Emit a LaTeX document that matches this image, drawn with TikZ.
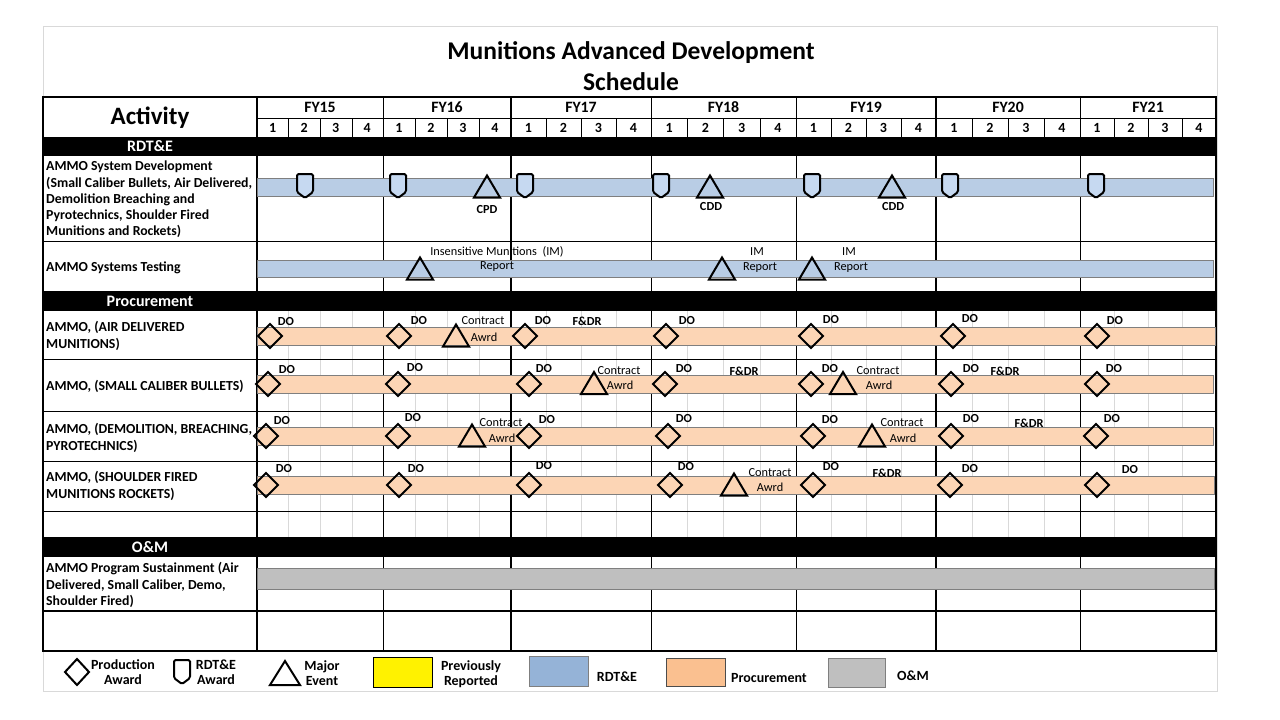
\documentclass[tikz,border=0pt]{standalone}
\usepackage{fontspec}
\setmainfont{Carlito}
\definecolor{rdtebar}{HTML}{B9CDE5}
\definecolor{shieldc}{HTML}{C6D9F1}
\definecolor{procbar}{HTML}{FCD5B5}
\definecolor{procleg}{HTML}{FAC090}
\definecolor{rdteleg}{HTML}{95B3D7}
\definecolor{ombar}{HTML}{BFBFBF}
\definecolor{gridgray}{HTML}{D9D9D9}
\definecolor{bargray}{HTML}{7F7F7F}
\newcommand\dia[2]{\draw[mk] (#1-12,#2) -- (#1,#2-12) -- (#1+12,#2) -- (#1,#2+12) -- cycle;}
\newcommand\tri[2]{\draw[mk] (#1,#2-11) -- (#1+13,#2+11) -- (#1-13,#2+11) -- cycle;}
\newcommand\shd[2]{\draw[mk,fill=shieldc,rounded corners=1.5pt] (#1-8,#2+6) -- (#1-8,#2-12) -- (#1+8,#2-12) -- (#1+8,#2+6) -- (#1,#2+12) -- cycle;}
\newcommand\lbl[4]{\node[smlbl] (#1) at (#2,#3) {#4};}
\newcommand\lbb[4]{\node[smlbl,font=\fontsize{12.3}{14}\selectfont\bfseries] (#1) at (#2,#3) {#4};}
\begin{document}
\begin{tikzpicture}[x=1pt,y=-1pt,
  mk/.style={draw=black,line width=2pt,line join=miter},
  smlbl/.style={inner sep=0pt,font=\fontsize{12.3}{14}\selectfont},
  rowlbl/.style={anchor=west,align=left,inner sep=0pt,font=\fontsize{13.8}{16.3}\selectfont\bfseries},
  secbar/.style={fill=black,draw=none},
  sectxt/.style={text=white,inner sep=0pt,font=\fontsize{16}{18}\selectfont\bfseries},
  bar/.style={draw=bargray,line width=0.8pt},
  legtxt/.style={align=center,inner sep=0pt,font=\fontsize{14}{15}\selectfont\bfseries}]
\useasboundingbox (0,0) rectangle (1280,720);
\fill[white] (0,0) rectangle (1280,720);
% outer frame
\draw[gridgray,line width=0.8pt] (43,26) rectangle (1217,691);
% title
\node[font=\fontsize{25.5}{28}\selectfont\bfseries] (title1) at (631,53) {Munitions Advanced Development};
\node[font=\fontsize{25.5}{28}\selectfont\bfseries] (title2) at (631,82) {Schedule};
% light quarter grid in procurement rows
\foreach \q in {288,320,352,415,447,479,546,581,616,687,723,760,831,866,901,972,1008,1044,1114,1148,1182}
  \draw[gridgray,line width=0.8pt] (\q,311) -- (\q,537);
% testing label drawn under grid
\lbl{insens}{497}{252}{Insensitive Munitions\ \ (IM)}
% year lines
\foreach \yv in {383,651,796,1080}
  \draw[black,line width=0.9pt] (\yv,97) -- (\yv,651);
\foreach \yv in {511,936}
  \draw[black,line width=1.8pt] (\yv,97) -- (\yv,651);
% horizontal row lines
\foreach \h in {241,359,411,461,511}
  \draw[black,line width=0.9pt] (43,\h) -- (1216,\h);
\draw[black,line width=0.9pt] (257,118) -- (1216,118);
% header quarter lines
\foreach \q in {288,320,352,415,447,479,546,581,616,687,723,760,831,866,901,972,1008,1044,1114,1148,1182}
  \draw[black,line width=0.9pt] (\q,118) -- (\q,137);
% section bars
\fill[secbar] (43,137) rectangle (1216,156);
\fill[secbar] (43,291) rectangle (1216,311);
\fill[secbar] (43,537) rectangle (1216,557);
\node[sectxt] (s1) at (150,146.5) {RDT\&E};
\node[sectxt] (s2) at (150,301) {Procurement};
\node[sectxt] (s3) at (150,547) {O\&M};
% thick borders
\draw[black,line width=2pt] (43,97) rectangle (1216,651);
\draw[black,line width=2pt] (257,97) -- (257,651);
\draw[black,line width=2pt] (43,611) -- (1216,611);
% header texts
\node[font=\fontsize{25}{28}\selectfont\bfseries] (act) at (150,118) {Activity};
\foreach \a/\b/\t in {257/383/FY15,383/511/FY16,511/651/FY17,651/796/FY18,796/936/FY19,936/1080/FY20,1080/1216/FY21}{
  \node[font=\fontsize{15.8}{18}\selectfont\bfseries] (fy\t) at ({(\a+\b)/2},107.5) {\t};
  \foreach \k in {1,2,3,4}
    \node[font=\fontsize{14}{16}\selectfont\bfseries] (q\t\k) at ({\a+(\b-\a)*(\k-0.5)/4},127.5) {\k};
}
% row labels
\node[rowlbl] (r1) at (46,199.5) {AMMO System Development\\(Small Caliber Bullets, Air Delivered,\\Demolition Breaching and\\Pyrotechnics, Shoulder Fired\\Munitions and Rockets)};
\node[rowlbl] (r2) at (46,268) {AMMO Systems Testing};
\node[rowlbl] (r3) at (46,336) {AMMO, (AIR DELIVERED\\MUNITIONS)};
\node[rowlbl] (r4) at (46,386) {AMMO, (SMALL CALIBER BULLETS)};
\node[rowlbl] (r5) at (46,438) {AMMO, (DEMOLITION, BREACHING,\\PYROTECHNICS)};
\node[rowlbl] (r6) at (46,486) {AMMO, (SHOULDER FIRED\\MUNITIONS ROCKETS)};
\node[rowlbl] (r7) at (46,585) {AMMO Program Sustainment (Air\\Delivered, Small Caliber, Demo,\\Shoulder Fired)};
% bars
\draw[bar,fill=rdtebar] (257,178) rectangle (1213,196);
\draw[bar,fill=rdtebar] (257,260) rectangle (1213,277);
\draw[bar,fill=procbar] (257,327) rectangle (1215,345);
\draw[bar,fill=procbar] (257,375) rectangle (1213,393);
\draw[bar,fill=procbar] (257,427) rectangle (1213,445);
\draw[bar,fill=procbar] (257,476) rectangle (1214,494);
\draw[bar,fill=ombar] (257,568) rectangle (1214,589);
% RDT&E development markers
\foreach \x in {305,398,525,661,812,950,1096} \shd{\x}{186};
\foreach \x in {487,710,892} \tri{\x}{186.5};
\lbb{cpd}{487}{210}{CPD}
\lbb{cdd1}{711}{207}{CDD}
\lbb{cdd2}{893}{207}{CDD}
% testing markers
\foreach \x in {420,722,812} \tri{\x}{268.5};
\lbl{rep1}{497}{267}{Report}
\lbl{im1}{757}{252}{IM}
\lbl{rep2}{760}{268}{Report}
\lbl{im2}{849}{252}{IM}
\lbl{rep3}{851}{268}{Report}
% AIR row
\foreach \x in {270,399,525,666,811,953,1097} \dia{\x}{336};
\tri{456}{335.5}
\lbb{a1}{286}{322}{DO}\lbb{a2}{419}{321}{DO}\lbb{a3}{543}{321}{DO}\lbb{a4}{687}{321}{DO}
\lbb{a5}{831}{320}{DO}\lbb{a6}{970}{319}{DO}\lbb{a7}{1115}{321}{DO}
\lbl{ac}{483}{321}{Contract}\lbl{aa}{484}{337}{Awrd}
\lbb{af}{587}{321}{F\&DR}
% SMALL row
\foreach \x in {268,398,529,665,811,951,1097} \dia{\x}{384};
\tri{594}{383}\tri{843}{383}
\lbb{b1}{287}{370}{DO}\lbb{b2}{415}{368}{DO}\lbb{b3}{544}{369}{DO}\lbb{b4}{684}{369}{DO}
\lbb{b5}{830}{369}{DO}\lbb{b6}{971}{369}{DO}\lbb{b7}{1114}{369}{DO}
\lbb{bf1}{744}{371}{F\&DR}\lbb{bf2}{1005}{371}{F\&DR}
\lbl{bc1}{619}{371}{Contract}\lbl{ba1}{620}{385}{Awrd}
\lbl{bc2}{878}{371}{Contract}\lbl{ba2}{879}{385}{Awrd}
% DEMO row
\foreach \x in {266,398,529,668,813,951,1096} \dia{\x}{436};
\tri{472}{435.5}\tri{872}{435.5}
\lbb{c1}{282}{421}{DO}\lbb{c2}{413}{418}{DO}\lbb{c3}{547}{420}{DO}\lbb{c4}{684}{419}{DO}
\lbb{c5}{830}{420}{DO}\lbb{c6}{971}{419}{DO}\lbb{c7}{1112}{419}{DO}
\lbl{cc1}{501}{423}{Contract}\lbl{ca1}{502}{438}{Awrd}
\lbl{cc2}{902}{423}{Contract}\lbl{ca2}{903}{438}{Awrd}
\lbb{cf}{1029}{423}{F\&DR}
% SHOULDER row
\foreach \x in {266,399,529,670,813,950,1097} \dia{\x}{485};
\tri{734}{484.5}
\lbb{d1}{284}{469}{DO}\lbb{d2}{416}{469}{DO}\lbb{d3}{544}{466}{DO}\lbb{d4}{686}{467}{DO}
\lbb{d5}{831}{467}{DO}\lbb{d6}{970}{469}{DO}\lbb{d7}{1130}{470}{DO}
\lbl{dc}{770}{473}{Contract}\lbl{da}{770}{487}{Awrd}
\lbb{df}{887}{473}{F\&DR}
% legend
\draw[mk] (65,672) -- (77,659) -- (89,672) -- (77,685) -- cycle;
\node[legtxt] (lg1) at (123,672.5) {Production\\Award};
\draw[mk,rounded corners=1.5pt] (174,678) -- (174,660) -- (190,660) -- (190,678) -- (182,684) -- cycle;
\node[legtxt] (lg2) at (216,672.5) {RDT\&E\\Award};
\draw[mk] (285,661) -- (300,685) -- (270,685) -- cycle;
\node[legtxt] (lg3) at (322,673.5) {Major\\Event};
\draw[black,line width=0.8pt,fill=yellow] (373,657) rectangle (432,687);
\node[legtxt] (lg4) at (471,674) {Previously\\Reported};
\draw[bargray,line width=0.8pt,fill=rdteleg] (529,656) rectangle (588,686);
\node[legtxt] (lg5) at (617,677) {RDT\&E};
\draw[black!70,line width=0.8pt,fill=procleg] (666,658) rectangle (725,686);
\node[legtxt] (lg6) at (769,678) {Procurement};
\draw[bargray,line width=0.8pt,fill=ombar] (828,658) rectangle (885,687);
\node[legtxt] (lg7) at (913,676) {O\&M};
\end{tikzpicture}
\end{document}
